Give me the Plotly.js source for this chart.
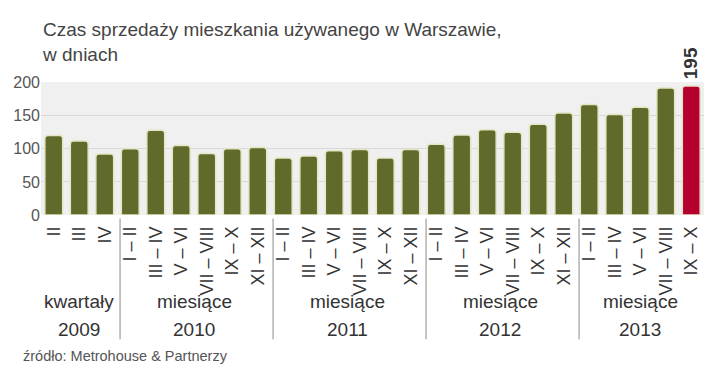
<!DOCTYPE html>
<html>
<head>
<meta charset="utf-8">
<script src="https://cdn.plot.ly/plotly-3.0.1.min.js"></script>
<style>
html,body{margin:0;padding:0;background:#fff;}
#chart{width:720px;height:375px;}
</style>
</head>
<body>
<div id="chart"></div>
<script>
// Period labels (x tick labels)
const periods = [
  "II", "III", "IV",
  "I – II", "III – IV", "V – VI", "VII – VIII", "IX – X", "XI – XII",
  "I – II", "III – IV", "V – VI", "VII – VIII", "IX – X", "XI – XII",
  "I – II", "III – IV", "V – VI", "VII – VIII", "IX – X", "XI – XII",
  "I – II", "III – IV", "V – VI", "VII – VIII", "IX – X"
];
// Days to sell
const days = [
  120, 112, 92,
  100, 128, 105, 93, 100, 102,
  86, 89, 97, 99, 86, 99,
  107, 121, 129, 125, 137, 154,
  167, 152, 163, 192, 195
];
// Groups: label lines and number of bars in each
const groupKinds = ["kwartały", "miesiące", "miesiące", "miesiące", "miesiące"];
const groupYears = ["2009", "2010", "2011", "2012", "2013"];
const groupSizes = [3, 6, 6, 6, 5];

const yTicks = [0, 50, 100, 150, 200];
const highlightLabel = "195";

const olive = "#5f6a2b";
const red = "#b5002f";

const xIdx = periods.map((_, i) => i);
const colors = days.map((_, i) => i === days.length - 1 ? red : olive);

const trace = {
  type: "bar",
  x: xIdx,
  y: days,
  marker: {
    color: colors,
    cornerradius: 3,
    line: {color: "#e6e4c4", width: 1.5}
  },
  hoverinfo: "x+y"
};

const FONT = "Liberation Sans, Arial, sans-serif";
const shapes = [];
const annotations = [];
let start = 0;
groupSizes.forEach((n, g) => {
  const mid = start + (n - 1) / 2;
  annotations.push({
    xref: "x", yref: "paper", x: mid, y: -0.648, text: groupKinds[g],
    showarrow: false, xanchor: "center", yanchor: "middle",
    font: {family: FONT, size: 19, color: "#333"}
  });
  annotations.push({
    xref: "x", yref: "paper", x: mid, y: -0.858, text: groupYears[g],
    showarrow: false, xanchor: "center", yanchor: "middle",
    font: {family: FONT, size: 19, color: "#333"}
  });
  if (g > 0) {
    shapes.push({
      type: "line", xref: "x", yref: "paper",
      x0: start - 0.5 + 0.1, x1: start - 0.5 + 0.1, y0: -0.026, y1: -0.935,
      line: {color: "#8a8a8a", width: 1}
    });
  }
  start += n;
});

// highlighted value label above last bar
annotations.push({
  xref: "x", yref: "y", x: days.length - 1, y: days[days.length - 1],
  text: "<b>" + highlightLabel + "</b>", textangle: -90,
  showarrow: false, xanchor: "center", yanchor: "bottom", yshift: 5,
  font: {family: FONT, size: 19, color: "#333"}
});

// source
annotations.push({
  xref: "paper", yref: "paper", x: (20 - 40.5) / 663.5, y: (215.5 - 357) / 133.5,
  text: "źródło: Metrohouse & Partnerzy", showarrow: false,
  xanchor: "left", yanchor: "middle",
  font: {family: FONT, size: 14.5, color: "#555"}
});

const layout = {
  width: 720, height: 375,
  margin: {l: 40.5, r: 16, t: 82, b: 159.5, pad: 0},
  paper_bgcolor: "#ffffff",
  plot_bgcolor: "#f0f0f1",
  showlegend: false,
  bargap: 0.3,
  title: {
    text: "Czas sprzedaży mieszkania używanego w Warszawie,<br>w dniach",
    x: 43 / 720, xref: "container", xanchor: "left",
    y: 1 - 36 / 375, yref: "container", yanchor: "top",
    font: {family: FONT, size: 19, color: "#444"}
  },
  xaxis: {
    range: [-0.5, days.length - 0.5],
    tickmode: "array",
    tickvals: xIdx,
    ticktext: periods,
    tickangle: -90,
    ticks: "",
    ticklabelstandoff: 7,
    showgrid: false,
    zeroline: false,
    showline: false,
    fixedrange: true,
    tickfont: {family: FONT, size: 18, color: "#333"}
  },
  yaxis: {
    range: [0, 201],
    tickmode: "array",
    tickvals: yTicks,
    ticks: "",
    showgrid: true,
    gridcolor: "#d9d9d9",
    gridwidth: 1,
    zeroline: false,
    showline: false,
    fixedrange: true,
    tickfont: {family: FONT, size: 16, color: "#555"}
  },
  shapes: shapes,
  annotations: annotations
};

Plotly.newPlot("chart", [trace], layout, {displayModeBar: false, staticPlot: true});
</script>
</body>
</html>
